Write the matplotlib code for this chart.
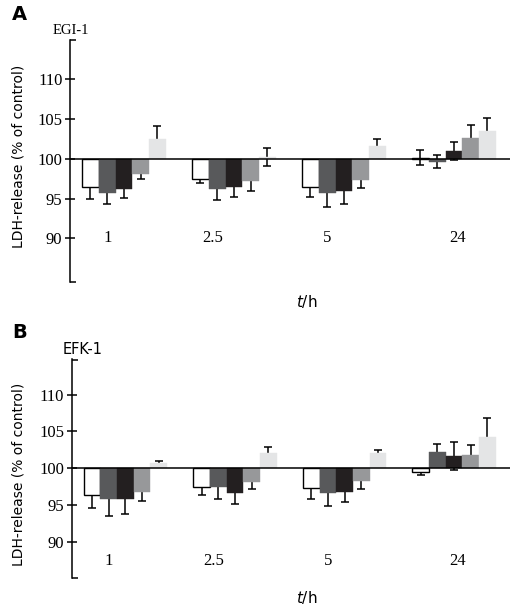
import numpy as np
import matplotlib
matplotlib.use('Agg')
import matplotlib.pyplot as plt

times = ['1', '2.5', '5', '24']
bar_colors = ['white', '#58595b', '#231f20', '#97989a', '#e4e5e6']

# panel A, EGI-1 : one list per bar colour, values at 1, 2.5, 5, 24 h
egi_vals = [[96.4, 97.45, 96.45, 100.15],
            [95.7, 96.15, 95.7, 99.65],
            [96.15, 96.5, 95.9, 101.0],
            [98.1, 97.15, 97.35, 102.65],
            [102.5, 100.2, 101.6, 103.5]]
egi_err = [[1.4, 0.5, 1.2, 0.9],
           [1.4, 1.35, 1.75, 0.85],
           [1.1, 1.3, 1.55, 1.15],
           [0.6, 1.2, 1.05, 1.6],
           [1.6, 1.1, 0.85, 1.6]]

# panel B, EFK-1
efk_vals = [[96.4, 97.4, 97.3, 99.45],
            [95.8, 97.4, 96.7, 102.15],
            [95.8, 96.6, 96.85, 101.65],
            [96.75, 98.2, 98.3, 101.8],
            [100.7, 102.05, 102.05, 104.3]]
efk_err = [[1.8, 1.0, 1.5, 0.3],
           [2.3, 1.5, 1.8, 1.2],
           [2.0, 1.45, 1.4, 1.9],
           [1.15, 1.05, 1.05, 1.4],
           [0.35, 0.8, 0.5, 2.5]]

fig = plt.figure(figsize=(5.21, 6.13), dpi=100)

def panel(rect, vals, err, ylim, label_y, letter, letter_y, cell, cell_x, cell_y, cell_font, ylab_y, th_y):
    ax = fig.add_axes(rect)
    x = np.arange(len(times))
    w = 0.152
    for i in range(len(vals)):
        xs = x + (i - 2) * w
        v = np.array(vals[i])
        ax.errorbar(xs, v, yerr=err[i], fmt='none', ecolor='black',
                    elinewidth=1.1, capsize=3.2, capthick=1.1, zorder=1)
        ax.bar(xs, v - 100, width=w, bottom=100, color=bar_colors[i],
               edgecolor='black' if i == 0 else bar_colors[i],
               linewidth=1.0 if i == 0 else 0.3, zorder=2)
    ax.axhline(100, color='black', lw=1.1, zorder=3)
    ax.set_xlim(-0.49, 3.51)
    ax.set_ylim(*ylim)
    for s in ['top', 'right', 'bottom']:
        ax.spines[s].set_visible(False)
    ax.spines['left'].set_linewidth(1.1)
    ax.set_xticks([])
    ax.set_yticks([90, 95, 100, 105, 110])
    ax.set_yticklabels(['90', '95', '100', '105', '110'],
                       family='Liberation Serif', fontsize=12)
    ax.tick_params(axis='y', direction='inout', length=7, width=1.1, pad=2)
    # short caps at both ends of the axis line
    ax.set_yticks([ylim[0] + 0.05, ylim[1] - 0.05], minor=True)
    ax.tick_params(axis='y', which='minor', direction='in', length=4, width=1.1)
    offs = [-0.15, -0.19, -0.15, 0.03]
    for k, t in enumerate(times):
        ax.text(k + offs[k], label_y, t, ha='center', va='center',
                family='Liberation Serif', fontsize=12)
    fig.text(12 / 521, 1 - letter_y / 613, letter, fontsize=14,
             fontweight='bold', va='center', ha='left')
    fig.text(cell_x / 521, 1 - cell_y / 613, cell, fontsize=10.5,
             family=cell_font, va='center', ha='left')
    fig.text(19 / 521, 1 - ylab_y / 613, 'LDH-release (% of control)',
             rotation=90, fontsize=10, va='center', ha='center')
    fig.text(307 / 521, 1 - th_y / 613, r'$t$/h', fontsize=11,
             va='center', ha='center')
    return ax

panel([70 / 521, 1 - 282 / 613, 440 / 521, 242 / 613], egi_vals, egi_err,
      (84.53, 114.9), 90, 'A', 15, 'EGI-1', 53, 30, 'Liberation Serif', 156, 302)
panel([71.7 / 521, 1 - 578.3 / 613, 438.3 / 521, 219 / 613], efk_vals, efk_err,
      (85.07, 114.8), 87.4, 'B', 332, 'EFK-1', 63, 349, 'DejaVu Sans', 474, 598)

plt.savefig('out.png', dpi=100)
